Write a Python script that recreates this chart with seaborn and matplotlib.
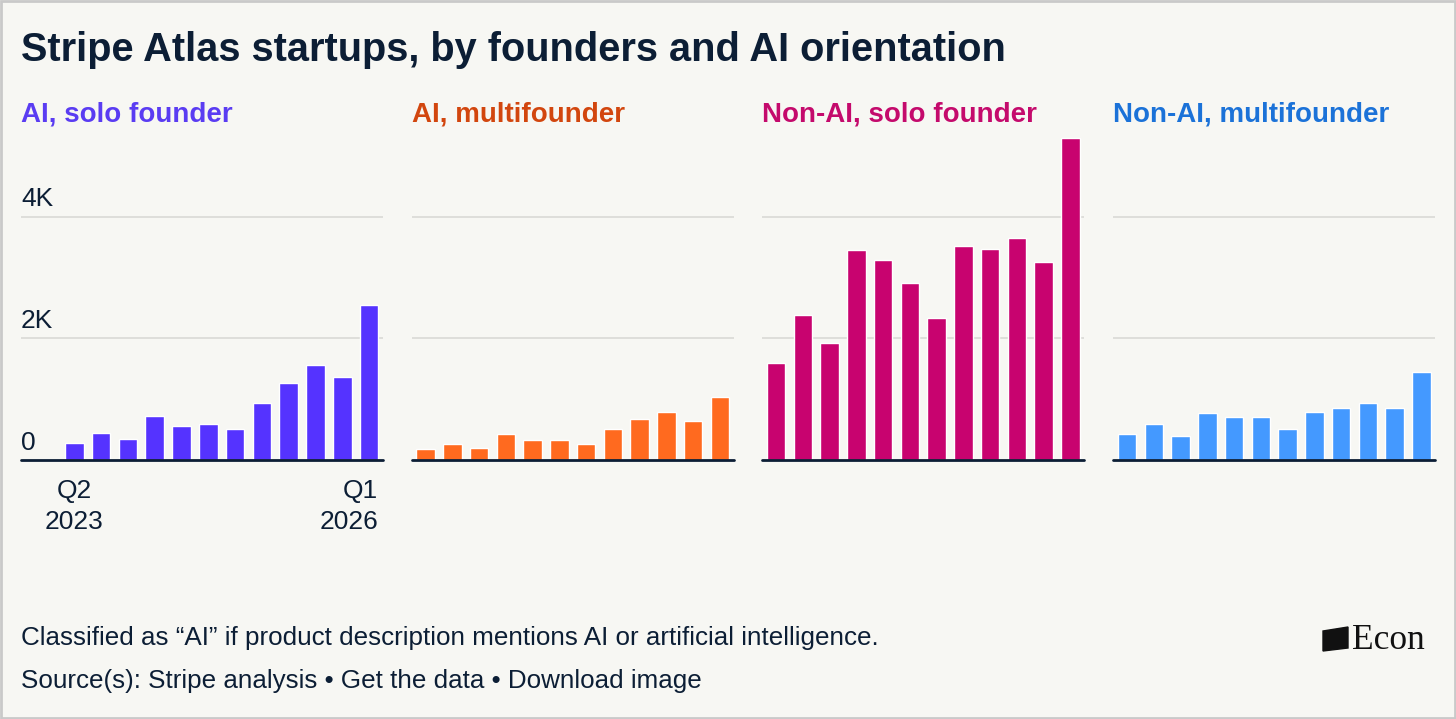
import pandas as pd
import seaborn as sns
import matplotlib.pyplot as plt
from matplotlib.patches import Rectangle, Polygon

# quarters Q2 2023 .. Q1 2026
quarters = ['Q2 2023', 'Q3 2023', 'Q4 2023', 'Q1 2024', 'Q2 2024', 'Q3 2024',
            'Q4 2024', 'Q1 2025', 'Q2 2025', 'Q3 2025', 'Q4 2025', 'Q1 2026']

ai_solo = [285, 440, 341, 720, 566, 599, 506, 929, 1258, 1555, 1357, 2556]
ai_multi = [176, 269, 192, 423, 324, 324, 269, 506, 671, 786, 638, 1034]
nonai_solo = [1588, 2380, 1918, 3452, 3287, 2907, 2330, 3518, 3468, 3650, 3254, 5294]
nonai_multi = [434, 599, 390, 780, 704, 704, 506, 797, 852, 934, 852, 1440]

panel_names = ['AI, solo founder', 'AI, multifounder',
               'Non-AI, solo founder', 'Non-AI, multifounder']
bar_colors = ['#5533ff', '#ff6a1f', '#c8036f', '#4499ff']
title_colors = ['#5a3cf2', '#d2460e', '#c40a6c', '#1b72d8']

ytick_vals = [0, 2000, 4000]
ytick_labels = ['0', '2K', '4K']

df = pd.DataFrame({
    'quarter': quarters * 4,
    'count': ai_solo + ai_multi + nonai_solo + nonai_multi,
    'panel': sum([[p] * len(quarters) for p in panel_names], []),
})

bg = '#f7f7f3'
navy = '#0c1e35'
W, H = 1456, 719

sns.set_theme(style='white')
plt.rcParams['font.family'] = ['Liberation Sans', 'DejaVu Sans']

fig = plt.figure(figsize=(W / 100, H / 100), dpi=100, facecolor=bg)

# panel placement in pixels: (left, width, xlim left)
lefts = [21, 411.7, 762.3, 1113.3]
widths = [362, 322, 322, 322]
xmins = [-1.99, -0.52, -0.52, -0.52]
base_px = 460
ymax = 5400
height_px = ymax / 16.44

for i, name in enumerate(panel_names):
    ax = fig.add_axes([lefts[i] / W, (H - base_px) / H, widths[i] / W, height_px / H])
    ax.set_facecolor(bg)
    sub = df[df['panel'] == name]
    sns.barplot(data=sub, x='quarter', y='count', order=quarters, color=bar_colors[i],
                width=0.69, saturation=1, ax=ax, errorbar=None)
    ax.set_xlim(xmins[i], 11.52)
    ax.set_ylim(0, ymax)
    for v in ytick_vals[1:]:
        ax.axhline(v, color='#dcdcd8', lw=1.3, zorder=0)
    ax.axhline(0, color=navy, lw=2.0, zorder=3, clip_on=False)
    for s in ax.spines.values():
        s.set_visible(False)
    ax.set_xticks([])
    ax.set_yticks([])
    ax.set_xlabel('')
    ax.set_ylabel('')
    fig.text(lefts[i] / W, (H - 121) / H, name, color=title_colors[i],
             fontsize=20, fontweight='bold', ha='left', va='baseline')
    if i == 0:
        for v, lab in zip(ytick_vals, ytick_labels):
            ax.annotate(lab, xy=(0, v), xycoords=('axes fraction', 'data'),
                        xytext=(0, 7.5), textcoords='offset points',
                        ha='left', va='baseline', fontsize=19, color=navy)
        ax.annotate('Q2\n2023', xy=(0, 0), xycoords='data', xytext=(0, -14),
                    textcoords='offset points', ha='center', va='top',
                    fontsize=19, color=navy, linespacing=1.36,
                    multialignment='center')
        ax.annotate('Q1\n2026', xy=(11.345, 0), xycoords='data', xytext=(0, -14),
                    textcoords='offset points', ha='right', va='top',
                    fontsize=19, color=navy, linespacing=1.36,
                    multialignment='right')

fig.text(21 / W, (H - 61) / H, 'Stripe Atlas startups, by founders and AI orientation',
         fontsize=28.6, fontweight='bold', color=navy, ha='left', va='baseline')

fig.text(21 / W, (H - 645) / H,
         'Classified as \u201cAI\u201d if product description mentions AI or artificial intelligence.',
         fontsize=18.7, color=navy, ha='left', va='baseline')
fig.text(21 / W, (H - 688) / H,
         'Source(s): Stripe analysis \u2022 Get the data \u2022 Download image',
         fontsize=18.7, color=navy, ha='left', va='baseline')

# logo
logo = Polygon([[1323 / W, (H - 631) / H], [1348 / W, (H - 627) / H],
                [1348 / W, (H - 648) / H], [1323 / W, (H - 651) / H]],
               closed=True, transform=fig.transFigure, color='#111111')
fig.patches.append(logo)
fig.text(1352 / W, (H - 649) / H, 'Econ', family='Liberation Serif',
         fontsize=25.5, color='#111111', ha='left', va='baseline')

# border
fig.patches.append(Rectangle((0.0005, 0.001), 0.999, 0.998, transform=fig.transFigure,
                             fill=False, edgecolor='#c9c9c9', lw=2))

fig.savefig('out.png', dpi=100, facecolor=bg)
